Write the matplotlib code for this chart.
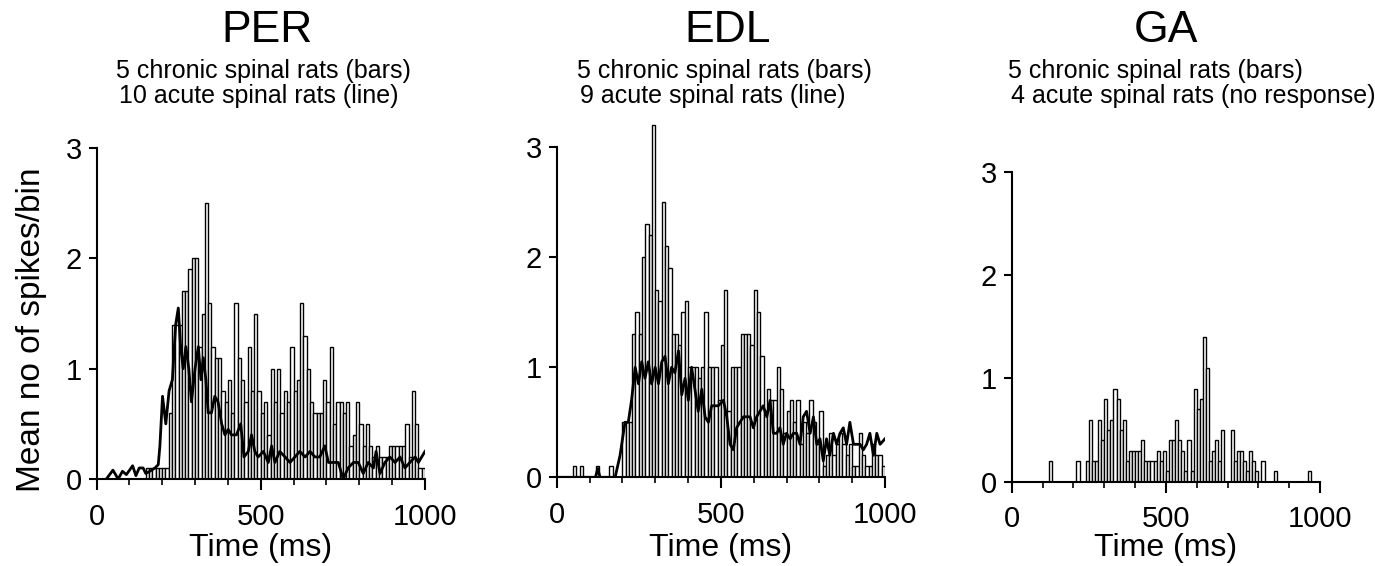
import numpy as np
import matplotlib
matplotlib.use('Agg')
from matplotlib import pyplot as plt
from matplotlib.ticker import MultipleLocator

plt.rcParams['font.family'] = ['Liberation Sans', 'DejaVu Sans']

# 10 ms bins, 0..1000 ms
bin_starts = np.arange(0, 1000, 10)

# chronic spinal rats, mean spikes per bin (bars)
per_bars = [0, 0, 0, 0, 0, 0, 0, 0, 0, 0,
            0, 0, 0, 0, 0, 0.1, 0.1, 0.1, 0.1, 0.1,
            0.1, 0.1, 0.6, 1.4, 1.4, 1.4, 1.7, 1.7, 1.9, 2.0,
            2.0, 1.2, 1.5, 2.5, 1.6, 1.2, 1.1, 1.1, 0.8, 0.7,
            0.9, 0.6, 1.6, 1.1, 0.9, 0.7, 1.2, 0.8, 1.5, 0.8,
            0.6, 0.7, 0.4, 1.0, 0.7, 1.0, 0.6, 0.8, 0.7, 1.2,
            0.8, 0.9, 1.6, 1.3, 1.0, 0.7, 0.6, 0.6, 0.6, 0.9,
            0.7, 1.2, 0.5, 0.7, 0.7, 0.6, 0.7, 0.3, 0.4, 0.7,
            0.5, 0.3, 0.5, 0.3, 0.2, 0.3, 0.2, 0.2, 0.2, 0.3,
            0.3, 0.3, 0.3, 0.3, 0.5, 0.2, 0.8, 0.5, 0.1, 0.1]

edl_bars = [0, 0, 0, 0, 0, 0.1, 0, 0.1, 0, 0,
            0, 0, 0.1, 0, 0, 0, 0.1, 0, 0, 0,
            0.5, 0.5, 0.5, 1.3, 1.5, 1.3, 2.0, 2.3, 2.2, 3.2,
            1.7, 1.6, 2.5, 2.1, 1.9, 1.3, 1.3, 1.2, 1.5, 1.6,
            1.0, 1.0, 1.0, 0.9, 1.0, 1.5, 1.0, 1.0, 1.0, 0.7,
            1.2, 1.7, 0.6, 1.0, 1.0, 1.0, 1.3, 1.3, 1.3, 1.2,
            1.7, 1.5, 1.1, 0.6, 0.8, 0.7, 0.7, 1.0, 0.8, 0.4,
            0.6, 0.7, 0.5, 0.7, 0.3, 0.5, 0.4, 0.7, 0.5, 0.3,
            0.6, 0.1, 0.2, 0.4, 0.2, 0.3, 0.4, 0.3, 0.2, 0.3,
            0.1, 0.1, 0.4, 0.2, 0.1, 0.1, 0.3, 0.2, 0.2, 0.1]

ga_bars = [0, 0, 0, 0, 0, 0, 0, 0, 0, 0,
           0, 0, 0.2, 0, 0, 0, 0, 0, 0, 0,
           0, 0.2, 0, 0, 0.2, 0.6, 0.2, 0.2, 0.6, 0.4,
           0.8, 0.5, 0.6, 0.9, 0.8, 0.5, 0.6, 0.2, 0.3, 0.3,
           0.3, 0.3, 0.4, 0.2, 0.2, 0.2, 0.2, 0.3, 0.2, 0.3,
           0.1, 0.4, 0.4, 0.6, 0.4, 0.3, 0.1, 0.4, 0.1, 0.9,
           0.7, 0.8, 1.4, 1.1, 0.2, 0.3, 0.4, 0.2, 0.5, 0,
           0, 0.5, 0.2, 0.3, 0.3, 0.2, 0.1, 0.3, 0.2, 0.1,
           0, 0.2, 0, 0, 0, 0.1, 0, 0, 0, 0,
           0, 0, 0, 0, 0, 0, 0.1, 0, 0, 0]

# acute spinal rats (line)
per_line_t = [30, 50, 66, 79, 91, 110, 120, 130, 142, 150,
              162, 178, 188, 193, 201, 211, 221, 231, 241, 249,
              256, 264, 272, 281, 289, 300, 310, 318, 325, 333,
              340, 350, 360, 370, 381, 391, 401, 411, 426, 439,
              449, 462, 472, 482, 492, 508, 523, 533, 543, 558,
              574, 589, 604, 619, 635, 650, 665, 680, 695, 706,
              721, 736, 751, 766, 782, 797, 812, 827, 843, 851,
              863, 878, 893, 909, 924, 939, 954, 970, 980, 1000]
per_line_v = [0, 0.08, 0, 0.07, 0.04, 0.12, 0.03, 0.1, 0.1, 0.05,
              0.07, 0.1, 0.13, 0.3, 0.75, 0.5, 0.8, 0.9, 1.4, 1.55,
              1.2, 1.0, 1.2, 1.0, 0.7, 1.0, 1.2, 0.9, 1.1, 0.9,
              0.6, 0.6, 0.75, 0.7, 0.5, 0.4, 0.45, 0.4, 0.4, 0.5,
              0.2, 0.25, 0.4, 0.25, 0.2, 0.25, 0.15, 0.3, 0.15, 0.25,
              0.2, 0.15, 0.2, 0.25, 0.2, 0.25, 0.2, 0.2, 0.3, 0.15,
              0.15, 0.15, 0.0, 0.1, 0.15, 0.15, 0.05, 0.15, 0.1, 0.25,
              0.05, 0.15, 0.2, 0.15, 0.2, 0.1, 0.15, 0.2, 0.15, 0.25]

edl_line_t = [0, 118, 125, 132, 178, 193, 208, 218, 228, 239,
              249, 259, 269, 279, 289, 300, 310, 320, 330, 340,
              350, 360, 371, 381, 391, 401, 411, 421, 431, 442,
              452, 462, 472, 482, 492, 508, 518, 528, 538, 548,
              558, 569, 579, 589, 599, 609, 619, 629, 640, 650,
              660, 670, 680, 690, 700, 711, 721, 731, 741, 751,
              761, 772, 782, 792, 802, 812, 822, 832, 843, 853,
              863, 873, 883, 893, 904, 914, 924, 934, 944, 954,
              965, 975, 985, 1000]
edl_line_v = [0, 0, 0.08, 0, 0, 0.2, 0.5, 0.5, 0.7, 1.0,
              0.85, 1.05, 0.9, 1.05, 0.85, 1.0, 0.85, 1.05, 1.1, 0.85,
              1.0, 0.95, 1.15, 0.75, 0.9, 0.7, 1.0, 0.8, 0.6, 0.8,
              0.55, 0.5, 0.65, 0.65, 0.65, 0.7, 0.55, 0.3, 0.25, 0.45,
              0.5, 0.55, 0.55, 0.55, 0.45, 0.55, 0.6, 0.65, 0.55, 0.7,
              0.4, 0.4, 0.45, 0.3, 0.4, 0.35, 0.4, 0.4, 0.3, 0.55,
              0.6, 0.4, 0.55, 0.3, 0.35, 0.15, 0.35, 0.2, 0.4, 0.3,
              0.4, 0.45, 0.3, 0.5, 0.3, 0.3, 0.3, 0.25, 0.3, 0.4,
              0.2, 0.4, 0.3, 0.35]

titles = ['PER', 'EDL', 'GA']
chronic_text = ['5 chronic spinal rats (bars)'] * 3
acute_text = ['10 acute spinal rats (line)', '9 acute spinal rats (line)',
              '4 acute spinal rats (no response)']

W, H = 1375, 566
fig = plt.figure(figsize=(W / 100, H / 100), dpi=100)


def make_axes(x0, x1, y0, ppu):
    # x0, x1: pixel of 0 and 1000 ms; y0: pixel row of zero; ppu: pixels per unit
    ytop = 3.3
    return fig.add_axes([x0 / W, (H - y0) / H, (x1 - x0) / W, ytop * ppu / H])


def style(ax):
    ax.set_xlim(0, 1000)
    ax.set_ylim(0, 3.3)
    for s in ['top', 'right']:
        ax.spines[s].set_visible(False)
    ax.spines['left'].set_bounds(0, 3)
    ax.spines['bottom'].set_bounds(0, 1000)
    for s in ['left', 'bottom']:
        ax.spines[s].set_linewidth(1.5)
    ax.set_xticks([0, 500, 1000])
    ax.xaxis.set_minor_locator(MultipleLocator(100))
    ax.set_yticks([0, 1, 2, 3])
    ax.tick_params(axis='x', which='major', length=8, width=1.5, labelsize=21, pad=9)
    ax.tick_params(axis='x', which='minor', length=4.5, width=1.2)
    ax.tick_params(axis='y', which='major', length=5.5, width=1.5, labelsize=21, pad=5)


ax1 = make_axes(96.5, 425, 479, 110.3)
ax2 = make_axes(556.7, 885, 477.3, 110)
ax3 = make_axes(1011.7, 1320, 481.7, 103.3)
axes = [ax1, ax2, ax3]

bar_sets = [per_bars, edl_bars, ga_bars]
lines = [(per_line_t, per_line_v), (edl_line_t, edl_line_v), None]

for ax, bars, ln in zip(axes, bar_sets, lines):
    ax.bar(bin_starts, bars, width=10, align='edge', facecolor='white',
           edgecolor='black', linewidth=1.0, zorder=1)
    if ln is not None:
        ax.plot(ln[0], ln[1], color='black', linewidth=2.0, zorder=3)
    style(ax)
    # x label at the same pixel row under every panel
    bb = ax.get_position()
    fig.text(bb.x0 + bb.width / 2, 1 - 548 / H, 'Time (ms)',
             ha='center', va='center', fontsize=23)

# headers
title_x = [267, 728, 1166]
sub_x = [116, 577, 1008]
for tx, sx, t, c, a in zip(title_x, sub_x, titles, chronic_text, acute_text):
    fig.text(tx / W, 1 - 31 / H, t, ha='center', va='center', fontsize=32)
    fig.text(sx / W, 1 - 71 / H, c, ha='left', va='center', fontsize=18)
    fig.text((sx + 3) / W, 1 - 96 / H, a, ha='left', va='center', fontsize=18)

fig.text(32 / W, 1 - 330 / H, 'Mean no of spikes/bin', rotation=90,
         ha='center', va='center', fontsize=24)

fig.savefig('out.png', dpi=100)
